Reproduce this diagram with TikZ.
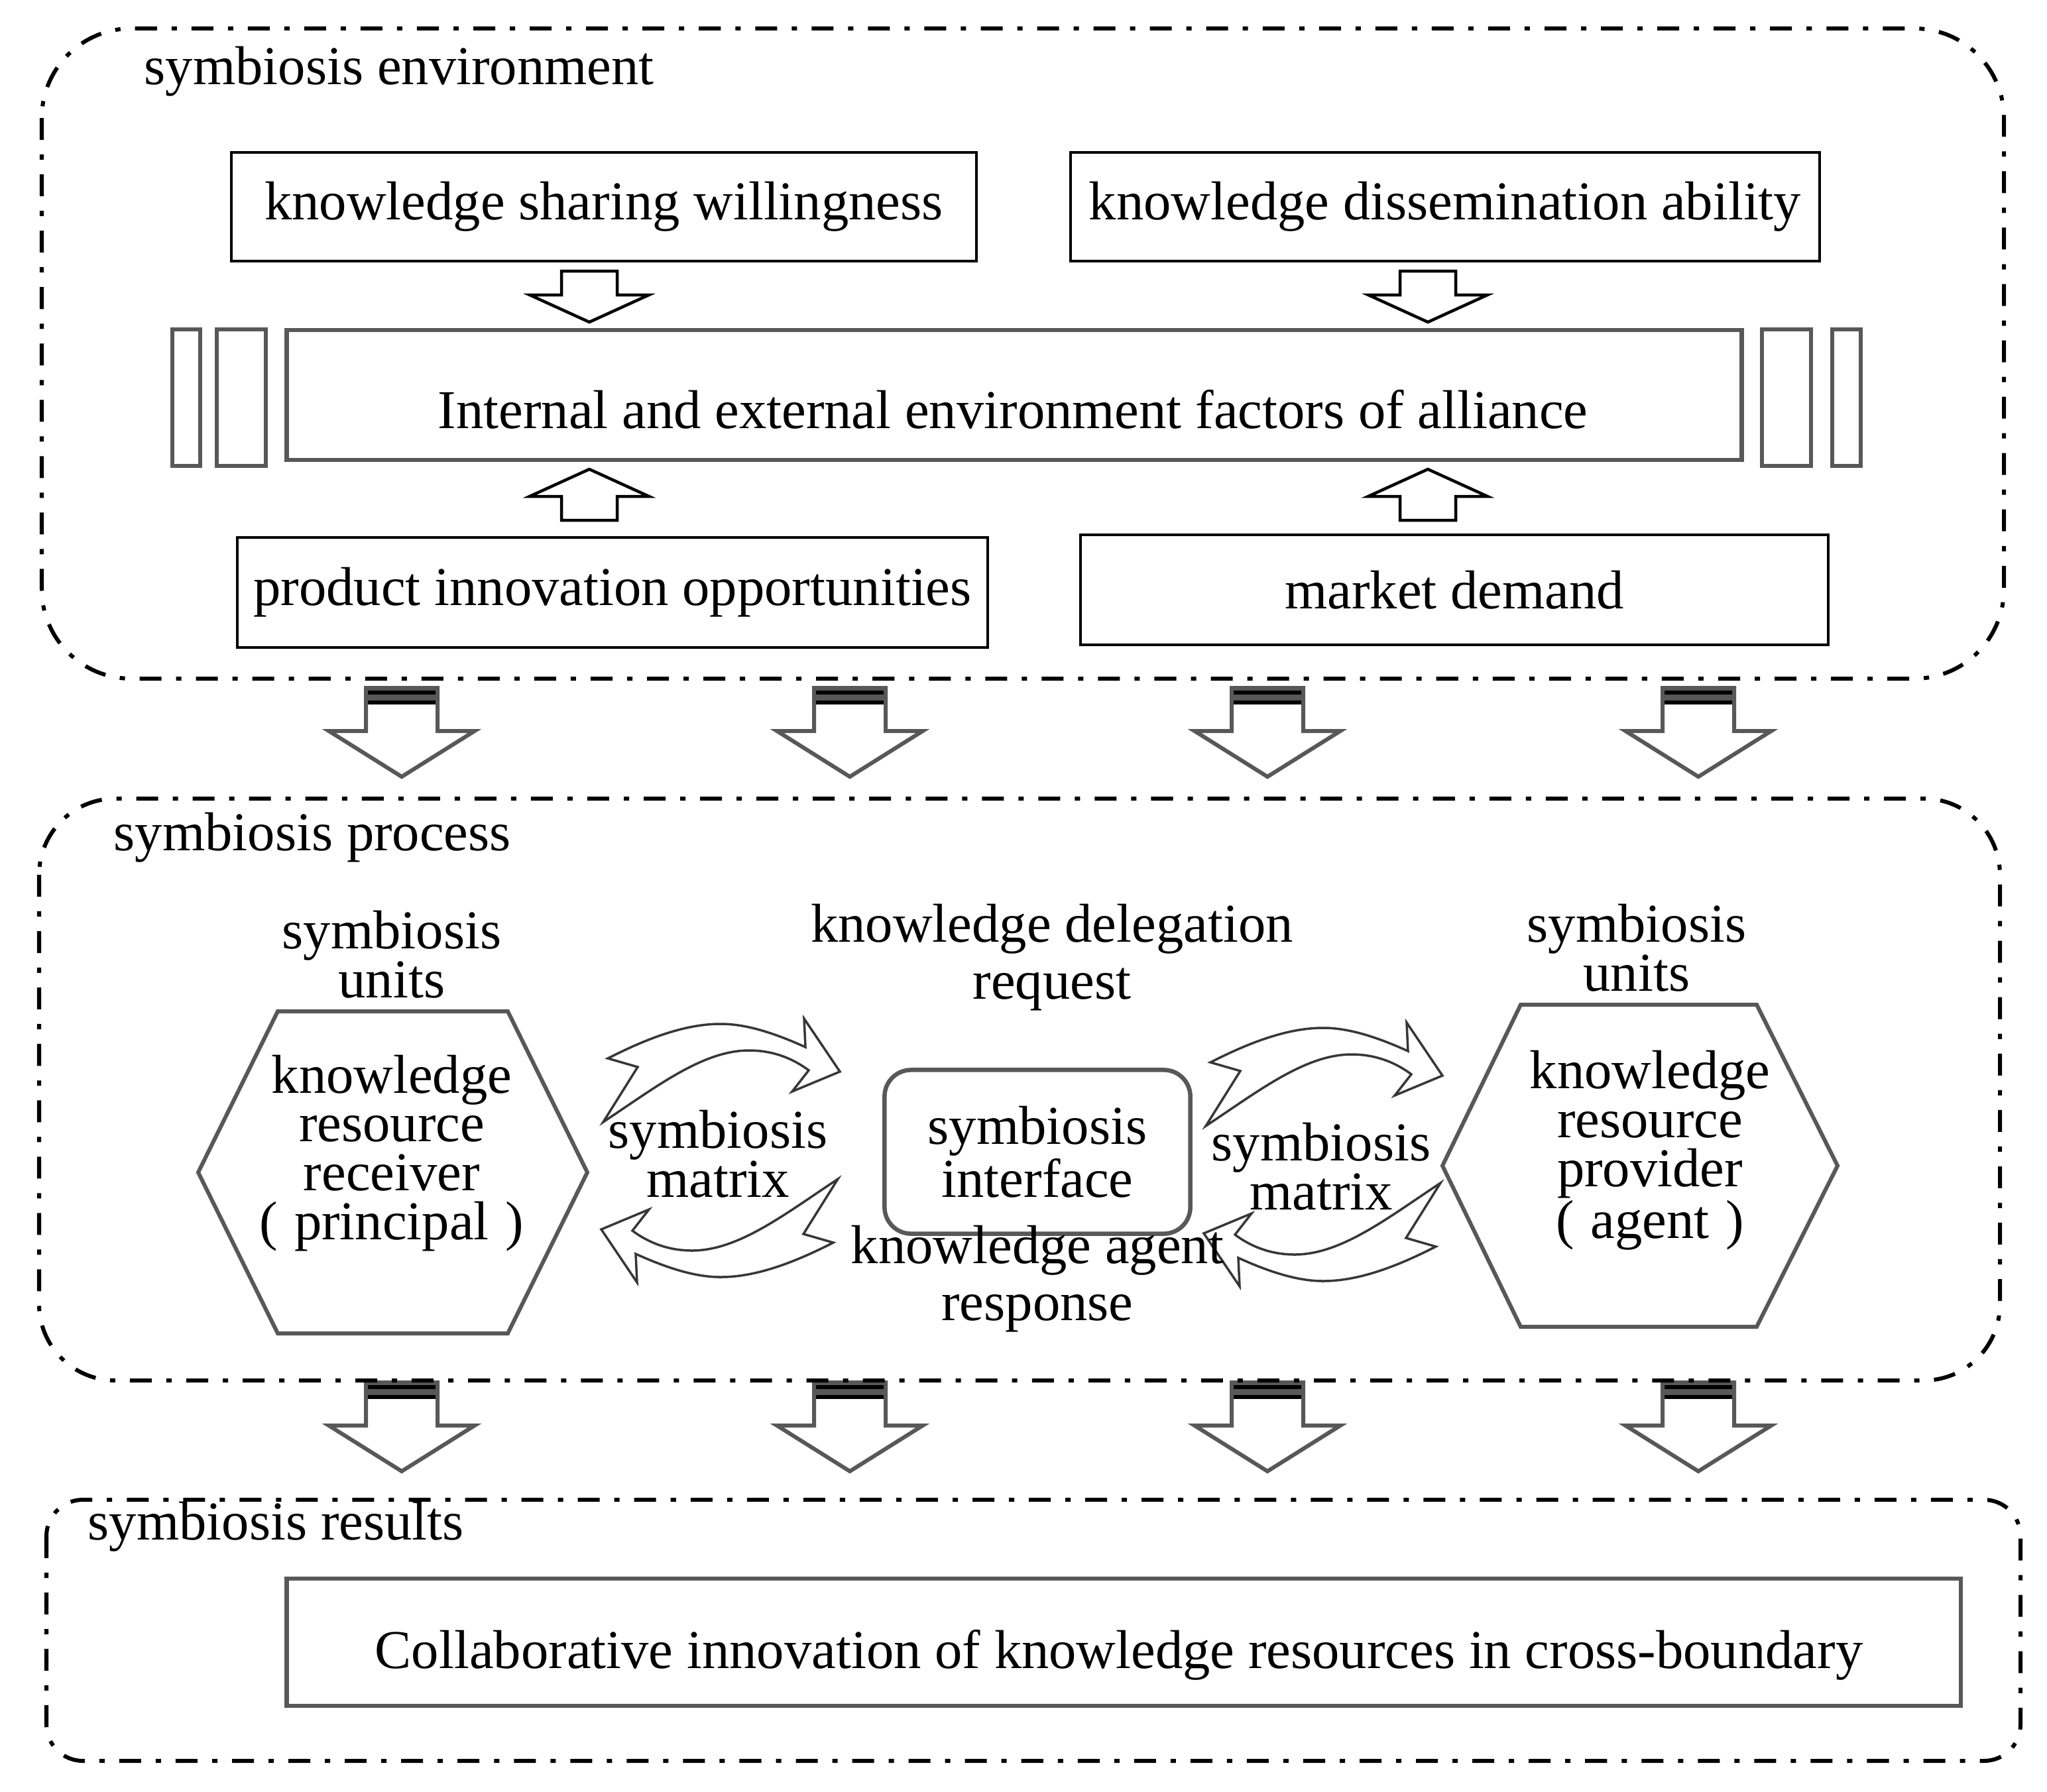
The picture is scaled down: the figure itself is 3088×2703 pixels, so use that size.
\documentclass[tikz,border=0pt]{standalone}
\usepackage{fontspec}
\setmainfont{Liberation Serif}
\usepackage{xcolor}
\usetikzlibrary{positioning}
\definecolor{framegray}{RGB}{88,88,88}
\definecolor{arrowgray}{RGB}{55,55,55}

\tikzset{
  zone/.style={line width=0.06cm, dash pattern=on 0.33cm off 0.22cm on 0.08cm off 0.22cm},
  factorbox/.style={draw, line width=0.04cm, minimum height=1.64cm, inner sep=0pt},
  graybox/.style={draw=framegray, line width=0.065cm, inner sep=0pt, align=center},
  txt/.style={inner sep=0pt, align=center},
  widetxt/.style={txt, font={\fontsize{23.5}{24.5}\selectfont}},
  % hollow block arrow, pointing down, origin at its middle
  hollowarrow/.pic={
    \draw[line width=0.045cm] (-42,-38) -- (42,-38) -- (42,-2) -- (90,-2) -- (0,39) -- (-90,-2) -- (-42,-2) -- cycle;
  },
  % gray arrow with stripes on top, origin at top middle
  stripearrow/.pic={
    \fill[framegray] (-54,0) rectangle (54,25);
    \fill[black] (-54,4) rectangle (54,10);
    \fill[black] (-54,19) rectangle (54,25);
    \draw[framegray, line width=0.06cm] (-54,0) -- (54,0) -- (54,65) -- (110,65) -- (0,134) -- (-110,65) -- (-54,65) -- cycle;
  },
  % curved arrow with notched tail, origin at centre of the pair
  swoop/.pic={
    \draw[arrowgray, line width=0.035cm]
      (-170,-139) -- (-125,-126) -- (-177,-43)
      .. controls (-97,-96) and (-27,-151) .. (43,-151)
      .. controls (83,-151) and (113,-136) .. (133,-121)
      -- (108,-89) -- (180,-119) -- (126,-199) -- (128,-156)
      .. controls (73,-181) and (33,-191) .. (0,-191)
      .. controls (-57,-191) and (-117,-166) .. (-170,-139) -- cycle;
  }
}
\newcommand{\wideparen}[1]{(\hspace{0.3em}#1\hspace{0.3em})}

\begin{document}
\begin{tikzpicture}[x=0.01cm, y=-0.01cm, font={\fontsize{23.5}{21}\selectfont}]
    \useasboundingbox (0,0) rectangle (3088,2703);

    % symbiosis environment
    \draw[zone, rounded corners=1.35cm] (63,43) rectangle (3023,1024);
    \node[txt, anchor=west] (envlabel) at (217,108) {symbiosis environment};

    \node[factorbox, minimum width=11.24cm] (sharing) at (911,312) {knowledge sharing willingness};
    \node[factorbox, minimum width=11.30cm] (dissem) at (2180,312) {knowledge dissemination ability};

    \node[graybox, minimum width=21.94cm, minimum height=1.96cm] (internal) at (1530,596) {};
    \node[txt] (internaltxt) at (1528,618) {Internal and external environment factors of alliance};
    \foreach \xa/\xb in {260/302, 327/401, 2658/2732, 2764/2807}
        \draw[framegray, line width=0.065cm] (\xa,497) rectangle (\xb,703);

    \node[factorbox, minimum width=11.31cm, minimum height=1.66cm] (product) at (924,894) {product innovation opportunities};
    \node[factorbox, minimum width=11.27cm, minimum height=1.66cm] (market) at (2194,890) {market demand};

    \foreach \cx in {889,2154} {
        \pic at (\cx,447) {hollowarrow};
        \pic[rotate=180] at (\cx,747) {hollowarrow};
    }

    % arrows between the zones
    \foreach \cx in {606,1282,1912,2562} {
        \pic at (\cx,1038) {stripearrow};
        \pic at (\cx,2086) {stripearrow};
    }

    % symbiosis process
    \draw[zone, rounded corners=1.15cm] (59,1205) rectangle (3017,2083);
    \node[txt, anchor=west] (proclabel) at (171,1264) {symbiosis process};

    \node[txt] (unitsL) at (591,1440) {symbiosis\\units};
    \node[widetxt] (request) at (1587,1445) {knowledge delegation\\request};
    \node[txt] (unitsR) at (2469,1430) {symbiosis\\units};

    \draw[framegray, line width=0.06cm] (419,1526) -- (766,1526) -- (886,1769) -- (766,2012) -- (419,2012) -- (299,1769) -- cycle;
    \draw[framegray, line width=0.06cm] (2294,1516) -- (2650,1516) -- (2772,1759) -- (2650,2002) -- (2294,2002) -- (2176,1759) -- cycle;

    \pic at (1087,1736) {swoop};
    \pic[rotate=180] at (1087,1736) {swoop};
    \pic at (1996,1742) {swoop};
    \pic[rotate=180] at (1996,1742) {swoop};

    \node[txt] (receiver) at (591,1740) {knowledge\\resource\\receiver\\\wideparen{principal}};
    \node[txt] (provider) at (2489,1736) {knowledge\\resource\\provider\\\wideparen{agent}};
    \node[graybox, rounded corners=0.4cm, minimum width=4.61cm, minimum height=2.47cm] (interface) at (1565,1738) {symbiosis\\interface};
    \node[txt] (matrixL) at (1083,1741) {symbiosis\\matrix};
    \node[txt] (matrixR) at (1993,1760) {symbiosis\\matrix};
    \node[widetxt] (response) at (1565,1930) {knowledge agent\\response};

    % symbiosis results
    \draw[zone, rounded corners=0.55cm] (70,2263) rectangle (3048,2657);
    \node[txt, anchor=west] (reslabel) at (132,2304) {symbiosis results};
    \node[graybox, minimum width=25.24cm, minimum height=1.92cm] (collab) at (1695,2478) {};
    \node[txt] (collabtxt) at (1688,2497) {Collaborative innovation of knowledge resources in cross-boundary};
\end{tikzpicture}
\end{document}
